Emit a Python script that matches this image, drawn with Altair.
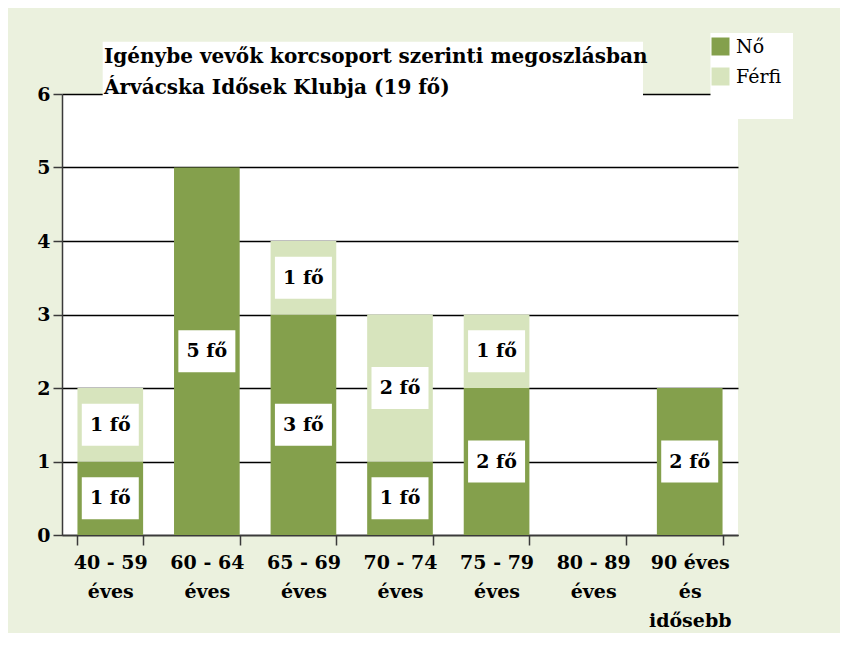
import altair as alt
import pandas as pd

# ---- data -------------------------------------------------------------
categories = ["40 - 59 éves", "60 - 64 éves", "65 - 69 éves", "70 - 74 éves",
              "75 - 79 éves", "80 - 89 éves", "90 éves és idősebb"]
no_values = [1, 5, 3, 1, 2, 0, 2]       # Nő
ferfi_values = [1, 0, 1, 2, 1, 0, 0]    # Férfi
series = ["Nő", "Férfi"]
series_colors = ["#84A04C", "#D7E4BD"]
unit = "fő"
title_lines = ["Igénybe vevők korcsoport szerinti megoszlásban",
               "Árvácska Idősek Klubja (19 fő)"]
tick_label_lines = {
    "40 - 59 éves": ["40 - 59", "éves"],
    "60 - 64 éves": ["60 - 64", "éves"],
    "65 - 69 éves": ["65 - 69", "éves"],
    "70 - 74 éves": ["70 - 74", "éves"],
    "75 - 79 éves": ["75 - 79", "éves"],
    "80 - 89 éves": ["80 - 89", "éves"],
    "90 éves és idősebb": ["90 éves", "és", "idősebb"],
}
y_ticks = [0, 1, 2, 3, 4, 5, 6]

rows = []
for i, cat in enumerate(categories):
    for s_i, (name, vals) in enumerate(zip(series, [no_values, ferfi_values])):
        rows.append({"kat": cat, "nem": name, "ertek": vals[i], "rend": s_i,
                     "cimke": f"{vals[i]} {unit}"})
df = pd.DataFrame(rows)

# label expression for multi-line x tick labels
expr = "datum.value"
for k, lines in reversed(list(tick_label_lines.items())):
    arr = "[" + ",".join(f"'{l}'" for l in lines) + "]"
    expr = f"datum.value == '{k}' ? {arr} : ({expr})"

FONT = "DejaVu Serif"
AXC = "#3a3a3a"

base = (
    alt.Chart(df)
    .transform_filter("datum.ertek > 0")
    .transform_stack(stack="ertek", groupby=["kat"],
                     sort=[alt.SortField("rend", order="ascending")],
                     as_=["y0", "y1"])
    .transform_calculate(mid="(datum.y0 + datum.y1) / 2")
)

x_enc = alt.X(
    "kat:N", sort=categories,
    scale=alt.Scale(domain=categories, paddingInner=0.32, paddingOuter=0.16),
    axis=alt.Axis(title=None, labelAngle=0, tickBand="extent", tickSize=10,
                  tickColor=AXC, tickWidth=1.5, domainColor=AXC, domainWidth=1.5,
                  labelExpr=expr, labelFont=FONT, labelFontSize=19,
                  labelFontWeight="bold", labelColor="black", labelLineHeight=29,
                  labelPadding=8, labelLimit=0, grid=False),
)

bars = base.mark_bar().encode(
    x=x_enc,
    y=alt.Y("y0:Q", scale=alt.Scale(domain=[0, 6], nice=False),
            axis=alt.Axis(title=None, values=y_ticks, format="d", grid=True,
                          gridColor="black", gridWidth=1.5, domainColor=AXC,
                          domainWidth=1.5, tickColor=AXC, tickWidth=1.5,
                          tickSize=9, labelFont=FONT, labelFontSize=19,
                          labelFontWeight="bold", labelColor="black",
                          labelPadding=3)),
    y2="y1:Q",
    color=alt.Color("nem:N", sort=series,
                    scale=alt.Scale(domain=series, range=series_colors),
                    legend=alt.Legend(title=None, orient="none", legendX=649,
                                      legendY=-57, symbolType="square",
                                      symbolSize=324, symbolStrokeWidth=0,
                                      labelFont=FONT, labelFontSize=19,
                                      labelColor="black", labelOffset=6,
                                      rowPadding=10, padding=0)),
    order=alt.Order("rend:Q"),
)

boxes = base.mark_point(
    shape="M-1,-0.737L1,-0.737L1,0.737L-1,0.737Z", size=3249,
    filled=True, fill="white", opacity=1, strokeWidth=0,
).encode(x=alt.X("kat:N", sort=categories), y=alt.Y("mid:Q"))

labels = base.mark_text(
    font=FONT, fontSize=19, fontWeight="bold", color="black"
).encode(x=alt.X("kat:N", sort=categories), y=alt.Y("mid:Q"), text="cimke:N")

deco = alt.Chart(pd.DataFrame({"d": [0]}))
title_box = deco.mark_rect(color="white").encode(
    x=alt.value(40.7), x2=alt.value(581), y=alt.value(-52.3), y2=alt.value(4))
legend_box = deco.mark_rect(color="white").encode(
    x=alt.value(648.5), x2=alt.value(731), y=alt.value(-61), y2=alt.value(25))
title_text = deco.mark_text(
    font=FONT, fontSize=20, fontWeight="bold", color="black", align="left",
    baseline="alphabetic", lineHeight=31,
).encode(x=alt.value(42), y=alt.value(-31), text=alt.value(title_lines))

chart = (
    alt.layer(title_box, legend_box, title_text, bars, boxes, labels)
    .properties(
        width=676, height=441,
        background="#EBF1DE",
        autosize=alt.AutoSizeParams(type="none"),
        padding={"left": 54, "top": 86, "right": 102, "bottom": 98},
    )
    .configure_view(fill="white", strokeWidth=0)
)

chart.save("out.html", embed_options={"renderer": "svg", "actions": False})
